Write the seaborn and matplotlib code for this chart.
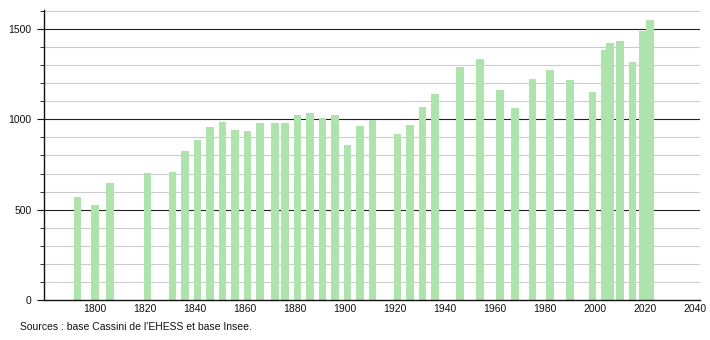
import matplotlib
matplotlib.use("Agg")
import matplotlib.pyplot as plt
from matplotlib.ticker import MultipleLocator
import seaborn as sns
import pandas as pd
import numpy as np

years = [1793, 1800, 1806, 1821, 1831, 1836, 1841, 1846, 1851, 1856, 1861, 1866,
         1872, 1876, 1881, 1886, 1891, 1896, 1901, 1906, 1911, 1921, 1926, 1931,
         1936, 1946, 1954, 1962, 1968, 1975, 1982, 1990, 1999, 2004, 2006, 2010,
         2015, 2019, 2022]
population = [570, 528, 646, 704, 711, 827, 888, 955, 985, 940, 933, 981,
              981, 981, 1024, 1037, 1006, 1024, 856, 963, 994, 918, 967, 1069,
              1139, 1289, 1333, 1161, 1061, 1222, 1272, 1217, 1152, 1385, 1424, 1434,
              1316, 1491, 1550]
x_ticks = list(range(1800, 2041, 20))
y_ticks = [0, 500, 1000, 1500]
source_text = "Sources : base Cassini de l'EHESS et base Insee."

df = pd.DataFrame({"year": years, "population": population})

sns.set_theme(style="white")
plt.rcParams["font.family"] = ["Liberation Sans", "DejaVu Sans"]

fig = plt.figure(figsize=(7.1, 3.4), dpi=100)
ax = fig.add_axes([44 / 710, 40 / 340, 656 / 710, 290 / 340])

min_gap = np.min(np.diff(sorted(years)))
sns.barplot(data=df, x="year", y="population", native_scale=True,
            width=3.1 / min_gap, color="#aee3ae", saturation=1,
            linewidth=0, ax=ax, zorder=3)

ax.set_xlim(1779.6, 2042)
ax.set_ylim(0, 1605)

# grid
for v in range(100, 1601, 100):
    if v % 500 == 0:
        ax.axhline(v, color="#222222", lw=0.8, zorder=1)
    else:
        ax.axhline(v, color="#cccccc", lw=0.8, zorder=1)

ax.set_xticks(x_ticks)
ax.set_xticklabels([str(t) for t in x_ticks], fontsize=7.5, color="#111111")
ax.set_yticks(y_ticks)
ax.set_yticklabels([str(t) for t in y_ticks], fontsize=7.5, color="#111111")
ax.yaxis.set_minor_locator(MultipleLocator(100))
ax.tick_params(axis="x", length=0, pad=3)
ax.tick_params(axis="y", which="major", length=5, width=0.8, color="#111111",
               direction="out", pad=4, left=True)
ax.tick_params(axis="y", which="minor", length=3, width=0.6, color="#111111",
               direction="out", left=True)

for s in ["top", "right"]:
    ax.spines[s].set_visible(False)
for s in ["left", "bottom"]:
    ax.spines[s].set_visible(True)
    ax.spines[s].set_color("#111111")
    ax.spines[s].set_linewidth(1.0)
    ax.spines[s].set_zorder(4)

ax.set_xlabel("")
ax.set_ylabel("")

fig.text(20 / 710, 13 / 340, source_text, fontsize=7.5, color="#111111",
         ha="left", va="center")

fig.savefig("out.png", dpi=100)
